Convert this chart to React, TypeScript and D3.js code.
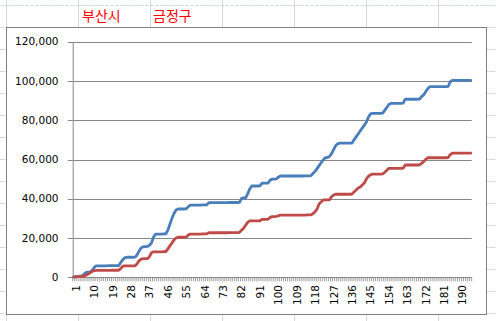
import React from 'react';
import * as d3 from 'd3';

const seriesNames = ['부산시', '금정구'];
const seriesColors = ['#4a7ebb', '#be4b48'];

const busan = [
  200, 400, 500, 600, 700, 1500, 2500, 2600, 2700, 3500,
  5000, 5800, 5800, 5800, 5800, 5800, 5800, 5900, 5900, 5900,
  5900, 5900, 6000, 7500, 9000, 10000, 10200, 10200, 10200, 10200,
  10300, 11500, 13500, 15000, 15600, 15600, 15700, 16300, 17500, 20500,
  22000, 22000, 22000, 22000, 22100, 22100, 24000, 27000, 30000, 32500,
  34300, 34800, 34800, 34800, 34800, 34900, 36000, 36800, 36800, 36800,
  36800, 36800, 36800, 36900, 36900, 36900, 38000, 38000, 38000, 38000,
  38000, 38000, 38000, 38000, 38000, 38000, 38100, 38100, 38100, 38100,
  38100, 38200, 40200, 40500, 40500, 42500, 45000, 46500, 46500, 46500,
  46500, 46600, 47900, 48000, 48000, 48000, 49500, 50000, 50000, 50100,
  51000, 51600, 51600, 51600, 51600, 51600, 51600, 51600, 51600, 51600,
  51600, 51600, 51600, 51700, 51700, 51700, 51800, 53000, 54000, 55500,
  57000, 58500, 59800, 61000, 61000, 61500, 63000, 65000, 67000, 68000,
  68300, 68300, 68300, 68300, 68300, 68300, 68400, 70000, 71500, 73000,
  74500, 76000, 77500, 79000, 81500, 83200, 83500, 83500, 83500, 83500,
  83500, 83600, 85000, 86500, 88000, 88600, 88600, 88600, 88600, 88600,
  88600, 88700, 90700, 90700, 90700, 90700, 90700, 90700, 90700, 90800,
  92000, 92900, 94500, 96000, 97100, 97100, 97100, 97100, 97100, 97100,
  97100, 97100, 97100, 97200, 99500, 100300, 100300, 100300, 100300, 100300,
  100300, 100300, 100300, 100300, 100300,
];

const geumjeong = [
  100, 200, 300, 300, 400, 500, 1000, 1700, 2200, 3000,
  3400, 3500, 3500, 3500, 3500, 3500, 3500, 3500, 3500, 3600,
  3600, 3600, 3600, 4500, 5700, 5800, 5800, 5800, 5800, 5800,
  5800, 7000, 8500, 9300, 9500, 9500, 9500, 10500, 12500, 13000,
  13000, 13000, 13000, 13000, 13100, 13100, 14500, 16000, 17500, 19000,
  20000, 20400, 20400, 20400, 20400, 20500, 21500, 22000, 22000, 22000,
  22000, 22000, 22000, 22100, 22100, 22100, 22700, 22700, 22700, 22700,
  22700, 22700, 22700, 22700, 22700, 22700, 22800, 22800, 22800, 22800,
  22800, 22900, 24000, 25000, 26500, 28000, 28700, 28700, 28700, 28700,
  28700, 28800, 29500, 29500, 29500, 29600, 30500, 30900, 30900, 31000,
  31300, 31700, 31700, 31700, 31700, 31700, 31700, 31700, 31700, 31700,
  31700, 31700, 31700, 31700, 31800, 31800, 31800, 32500, 33400, 35000,
  37500, 38500, 39400, 39400, 39400, 39500, 41000, 41900, 42300, 42300,
  42300, 42300, 42300, 42300, 42300, 42300, 42400, 43500, 44500, 45500,
  46000, 47000, 48000, 50000, 51500, 52100, 52600, 52600, 52600, 52600,
  52600, 52700, 53500, 54500, 55500, 55500, 55500, 55500, 55500, 55500,
  55500, 55600, 57200, 57200, 57200, 57200, 57200, 57200, 57200, 57300,
  58000, 58900, 60000, 60900, 60900, 60900, 60900, 60900, 60900, 60900,
  60900, 60900, 60900, 61000, 62500, 63200, 63200, 63200, 63200, 63200,
  63200, 63200, 63200, 63200, 63200,
];

const categories = busan.map((_, i) => String(i + 1));
const xTickLabels = ['1', '10', '19', '28', '37', '46', '55', '64', '73', '82', '91', '100',
  '109', '118', '127', '136', '145', '154', '163', '172', '181', '190'];
const yTicks = [0, 20000, 40000, 60000, 80000, 100000, 120000];

const W = 496;
const H = 321;
const plot = { left: 72.7, right: 471.7, top: 41.7, bottom: 277.3 };
const chartBox = { x: 6.5, y: 27.5, w: 480, h: 287 };
const sheetCols = [6.5, 78.5, 150.5, 222.5, 294.5, 366.5, 438.5];
const sheetRows = [5.5, 27.5, 49.5, 71.5, 93.5, 115.5, 137.5, 159.5, 181.5, 203.5, 225.5, 247.5, 269.5, 291.5, 313.5];

export default function App() {
  const x = d3.scaleBand<string>().domain(categories).range([plot.left, plot.right]).padding(0);
  const y = d3.scaleLinear().domain([0, 120000]).range([plot.bottom, plot.top]);
  const bw = x.bandwidth();
  const cx = (c: string) => (x(c) as number) + bw / 2;
  const line = d3.line<number>()
    .x((_, i) => cx(categories[i]))
    .y((d) => y(d));
  const fmt = d3.format(',');
  const font = '"DejaVu Sans", sans-serif';
  const gridColor = '#868686';
  const sheetColor = '#d0d7e5';

  return (
    <svg width={W} height={H} style={{ position: 'absolute', left: 0, top: 0 }}>
      <rect x={0} y={0} width={W} height={H} fill="#fff" />
      {sheetRows.map((r) => (
        <line key={'r' + r} x1={0} x2={W} y1={r} y2={r} stroke={sheetColor} strokeWidth={1} strokeDasharray="4 1" />
      ))}
      {sheetCols.map((c) => (
        <line key={'c' + c} x1={c} x2={c} y1={0} y2={H} stroke={sheetColor} strokeWidth={1} />
      ))}
      <text x={82} y={21} fill="#ff0000" fontSize={14} fontFamily='"Noto Sans CJK KR", sans-serif'>{seriesNames[0]}</text>
      <text x={153} y={21} fill="#ff0000" fontSize={14} fontFamily='"Noto Sans CJK KR", sans-serif'>{seriesNames[1]}</text>

      <rect x={chartBox.x} y={chartBox.y} width={chartBox.w} height={chartBox.h} fill="#fff" stroke="#808080" strokeWidth={1} />

      {yTicks.filter((t) => t > 0).map((t) => (
        <line key={'g' + t} x1={plot.left} x2={plot.right} y1={Math.round(y(t)) + 0.5} y2={Math.round(y(t)) + 0.5} stroke={gridColor} strokeWidth={1} />
      ))}
      {yTicks.map((t) => (
        <g key={'yt' + t}>
          <line x1={plot.left - 5} x2={plot.left} y1={Math.round(y(t)) + 0.5} y2={Math.round(y(t)) + 0.5} stroke={gridColor} />
          <text x={58.5} y={y(t)} dy="0.35em" textAnchor="end" fontSize={10.5} fontFamily={font} fill="#000">{fmt(t)}</text>
        </g>
      ))}
      <line x1={plot.left + 0.5} x2={plot.left + 0.5} y1={plot.top} y2={plot.bottom} stroke={gridColor} />
      <line x1={plot.left} x2={plot.right} y1={Math.round(plot.bottom) + 0.5} y2={Math.round(plot.bottom) + 0.5} stroke={gridColor} />
      {categories.concat(['end']).map((c, i) => {
        const xp = i < categories.length ? (x(c) as number) : plot.right;
        return <line key={'xt' + i} x1={xp} x2={xp} y1={plot.bottom} y2={plot.bottom + 4} stroke={gridColor} strokeWidth={0.8} />;
      })}
      {xTickLabels.map((lab) => (
        <text key={'xl' + lab} transform={`translate(${cx(lab)},285) rotate(-90)`} dy="0.57em" textAnchor="end" fontSize={10.5} fontFamily={font} fill="#000">{lab}</text>
      ))}

      <path d={line(busan) || ''} fill="none" stroke={seriesColors[0]} strokeWidth={2.8} strokeLinejoin="round" strokeLinecap="round" />
      <path d={line(geumjeong) || ''} fill="none" stroke={seriesColors[1]} strokeWidth={2.8} strokeLinejoin="round" strokeLinecap="round" />
    </svg>
  );
}
